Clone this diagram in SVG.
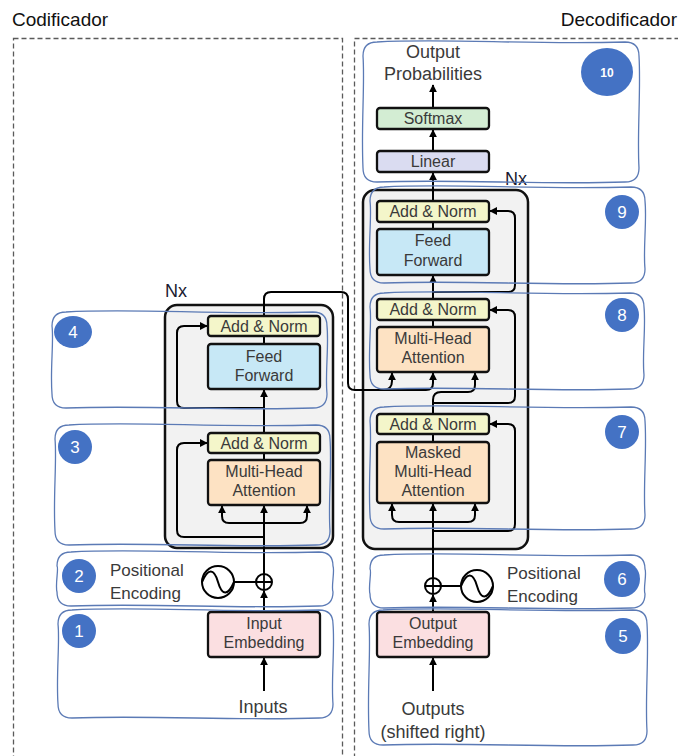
<svg xmlns="http://www.w3.org/2000/svg" width="678" height="756" viewBox="0 0 678 756">
<defs>
<marker id="ah" viewBox="0 0 10 10" refX="9" refY="5" markerWidth="8" markerHeight="8" markerUnits="userSpaceOnUse" orient="auto"><path d="M0,0 L10,5 L0,10 z" fill="#000"/></marker>
<style>
.dash{fill:none;stroke:#5a5a5a;stroke-width:1.3;stroke-dasharray:5 3}
.blk{fill:#f2f2f2;stroke:#111;stroke-width:2.5}
.comp{stroke:#111;stroke-width:2.3}
.an{fill:#f4f6ca}.ff{fill:#c7e8f6}.mha{fill:#fde2c3}.emb{fill:#fbdfe1}.sm{fill:#d3edd3}.lin{fill:#dadcf1}
.t{font-family:"Liberation Sans",Arial,sans-serif;font-size:16px;fill:#3a3a3a;text-anchor:middle}
.big{font-family:"Liberation Sans",Arial,sans-serif;font-size:18px;fill:#3a3a3a}
.pe{font-family:"Liberation Sans",Arial,sans-serif;font-size:17px;fill:#3a3a3a}
.con{fill:none;stroke:#000;stroke-width:2}
.wav{fill:none;stroke:#5b7ab5;stroke-width:1.3}
.num{fill:#4472c4}
.nt{font-family:"Liberation Sans",Arial,sans-serif;font-size:17px;fill:#fff;text-anchor:middle}
.title{font-family:"Liberation Sans",Arial,sans-serif;font-size:19px;fill:#111}
.nx{font-family:"Liberation Sans",Arial,sans-serif;font-size:18px;fill:#1a1a30}
</style>
</defs>
<rect width="678" height="756" fill="#fff"/>
<text class="title" x="12" y="26">Codificador</text>
<text class="title" x="677" y="26" text-anchor="end">Decodificador</text>
<rect class="dash" x="13.5" y="38.5" width="329" height="740"/>
<rect class="dash" x="354.5" y="38.5" width="360" height="740"/>

<g id="encoder-block"><rect class="blk" x="165" y="305" width="168" height="243" rx="12"/><text class="nx" x="165" y="297">Nx</text></g>
<g id="decoder-block"><rect class="blk" x="363" y="190" width="165" height="359" rx="12"/><text class="nx" x="505" y="185">Nx</text></g>

<g id="connectors">
<path class="con" d="M264,691 V658" marker-end="url(#ah)"/>
<path class="con" d="M264,612 V591" marker-end="url(#ah)"/>
<path class="con" d="M234,582 H256"/>
<path class="con" d="M264,574 V506" marker-end="url(#ah)"/>
<path class="con" d="M264,523 H229 Q222,523 222,516 V506" marker-end="url(#ah)"/>
<path class="con" d="M264,523 H300 Q307,523 307,516 V506" marker-end="url(#ah)"/>
<path class="con" d="M264,537 H184 Q177,537 177,530 V450 Q177,443 184,443 H207" marker-end="url(#ah)"/>
<path class="con" d="M264,460 V453"/>
<path class="con" d="M264,433 V390" marker-end="url(#ah)"/>
<path class="con" d="M264,408 H184 Q177,408 177,401 V333 Q177,326 184,326 H207" marker-end="url(#ah)"/>
<path class="con" d="M264,344 V336"/>
<path class="con" d="M264,316 V299 Q264,292 271,292 H341 Q348,292 348,299 V383 Q348,390 355,390 H426 Q433,390 433,383 V373" marker-end="url(#ah)"/>
<path class="con" d="M383,390 Q392,390 392,381 V373" marker-end="url(#ah)"/>

<path class="con" d="M433,691 V658" marker-end="url(#ah)"/>
<path class="con" d="M433,612 V595" marker-end="url(#ah)"/>
<path class="con" d="M441,586 H461"/>
<path class="con" d="M433,578 V504" marker-end="url(#ah)"/>
<path class="con" d="M433,522 H399 Q392,522 392,515 V504" marker-end="url(#ah)"/>
<path class="con" d="M433,522 H468 Q475,522 475,515 V504" marker-end="url(#ah)"/>
<path class="con" d="M433,531 H508 Q515,531 515,524 V431 Q515,424 508,424 H490" marker-end="url(#ah)"/>
<path class="con" d="M433,442 V434"/>
<path class="con" d="M433,414 V400 Q433,392 441,392 H468 Q475,392 475,385 V373" marker-end="url(#ah)"/>
<path class="con" d="M433,403 H508 Q515,403 515,396 V317 Q515,310 508,310 H490" marker-end="url(#ah)"/>
<path class="con" d="M433,327 V320"/>
<path class="con" d="M433,299 V276" marker-end="url(#ah)"/>
<path class="con" d="M433,292 H508 Q515,292 515,285 V218 Q515,211 508,211 H490" marker-end="url(#ah)"/>
<path class="con" d="M433,229 V222"/>
<path class="con" d="M433,201 V173" marker-end="url(#ah)"/>
<path class="con" d="M433,151 V130" marker-end="url(#ah)"/>
<path class="con" d="M433,108 V85" marker-end="url(#ah)"/>
</g>

<g id="enc-addnorm-2"><rect class="comp an" x="208" y="316" width="112" height="20" rx="3"/><text class="t" x="264" y="332">Add &amp; Norm</text></g>
<g id="enc-feedforward"><rect class="comp ff" x="208" y="344" width="112" height="45" rx="3"/><text class="t" x="264" y="362">Feed</text><text class="t" x="264" y="381">Forward</text></g>
<g id="enc-addnorm-1"><rect class="comp an" x="208" y="433" width="112" height="20" rx="3"/><text class="t" x="264" y="449">Add &amp; Norm</text></g>
<g id="enc-mha"><rect class="comp mha" x="208" y="460" width="112" height="45" rx="3"/><text class="t" x="264" y="477">Multi-Head</text><text class="t" x="264" y="496">Attention</text></g>
<g id="enc-pe"><circle cx="264" cy="582" r="8" fill="#fff" stroke="#000" stroke-width="2"/><path d="M256,582 H272 M264,574 V590" stroke="#000" stroke-width="1.8"/><circle cx="218" cy="582" r="16" fill="#fff" stroke="#000" stroke-width="2"/><path d="M202,582 C208,568 214,568 218,582 C222,596 228,596 234,582" fill="none" stroke="#000" stroke-width="2"/><text class="pe" x="110" y="576">Positional</text><text class="pe" x="110" y="599">Encoding</text></g>
<g id="input-embedding"><rect class="comp emb" x="208" y="612" width="112" height="45" rx="3"/><text class="t" x="264" y="629">Input</text><text class="t" x="264" y="648">Embedding</text></g>
<g id="inputs"><text class="big" x="263" y="713" text-anchor="middle">Inputs</text></g>

<g id="output-probabilities"><text class="big" x="433" y="58" text-anchor="middle">Output</text><text class="big" x="433" y="80" text-anchor="middle">Probabilities</text></g>
<g id="softmax"><rect class="comp sm" x="377" y="108" width="112" height="21" rx="3"/><text class="t" x="433" y="124">Softmax</text></g>
<g id="linear"><rect class="comp lin" x="377" y="151" width="112" height="21" rx="3"/><text class="t" x="433" y="167">Linear</text></g>
<g id="dec-addnorm-3"><rect class="comp an" x="377" y="201" width="112" height="21" rx="3"/><text class="t" x="433" y="217">Add &amp; Norm</text></g>
<g id="dec-feedforward"><rect class="comp ff" x="377" y="229" width="112" height="46" rx="3"/><text class="t" x="433" y="246">Feed</text><text class="t" x="433" y="266">Forward</text></g>
<g id="dec-addnorm-2"><rect class="comp an" x="377" y="299" width="112" height="21" rx="3"/><text class="t" x="433" y="315">Add &amp; Norm</text></g>
<g id="dec-mha"><rect class="comp mha" x="377" y="327" width="112" height="45" rx="3"/><text class="t" x="433" y="344">Multi-Head</text><text class="t" x="433" y="363">Attention</text></g>
<g id="dec-addnorm-1"><rect class="comp an" x="377" y="414" width="112" height="20" rx="3"/><text class="t" x="433" y="430">Add &amp; Norm</text></g>
<g id="dec-masked-mha"><rect class="comp mha" x="377" y="442" width="112" height="61" rx="3"/><text class="t" x="433" y="458">Masked</text><text class="t" x="433" y="477">Multi-Head</text><text class="t" x="433" y="496">Attention</text></g>
<g id="dec-pe"><circle cx="433" cy="586" r="8" fill="#fff" stroke="#000" stroke-width="2"/><path d="M425,586 H441 M433,578 V594" stroke="#000" stroke-width="1.8"/><circle cx="477" cy="586" r="16" fill="#fff" stroke="#000" stroke-width="2"/><path d="M461,586 C467,572 473,572 477,586 C481,600 487,600 493,586" fill="none" stroke="#000" stroke-width="2"/><text class="pe" x="507" y="579">Positional</text><text class="pe" x="507" y="602">Encoding</text></g>
<g id="output-embedding"><rect class="comp emb" x="377" y="612" width="112" height="45" rx="3"/><text class="t" x="433" y="629">Output</text><text class="t" x="433" y="648">Embedding</text></g>
<g id="outputs"><text class="big" x="433" y="715" text-anchor="middle">Outputs</text><text class="big" x="433" y="738" text-anchor="middle">(shifted right)</text></g>

<g id="regions">
<path class="wav" d="M377,42 C446,38 529,45 625,42 Q639,42 639,56 C641,91 637,133 639,168 Q639,182 625,182 C542,185 460,179 377,182 Q363,182 363,168 C361,126 365,84 363,56 Q363,42 377,42 Z"/>
<path class="wav" d="M384,187 C452,183 535,190 631,187 Q645,187 645,201 C647,221 643,249 645,269 Q645,283 631,283 C549,286 466,280 384,283 Q370,283 370,269 C368,245 372,216 370,201 Q370,187 384,187 Z"/>
<path class="wav" d="M384,293 C452,289 534,296 630,293 Q644,293 644,307 C646,327 642,355 644,375 Q644,389 630,389 C548,392 466,386 384,389 Q370,389 370,375 C368,351 372,322 370,307 Q370,293 384,293 Z"/>
<path class="wav" d="M384,407 C452,403 535,410 631,407 Q645,407 645,421 C647,450 643,486 645,515 Q645,529 631,529 C549,532 466,526 384,529 Q370,529 370,515 C368,480 372,444 370,421 Q370,407 384,407 Z"/>
<path class="wav" d="M384,555 C452,551 535,558 631,555 Q645,555 645,569 C647,574 643,589 645,594 Q645,608 631,608 C549,611 466,605 384,608 Q370,608 370,594 C368,587 372,571 370,569 Q370,555 384,555 Z"/>
<path class="wav" d="M383,610 C452,606 536,613 633,610 Q647,610 647,624 C649,657 645,698 647,731 Q647,745 633,745 C550,748 466,742 383,745 Q369,745 369,731 C367,691 371,650 369,624 Q369,610 383,610 Z"/>
<path class="wav" d="M66,312 C134,308 217,315 313,312 Q327,312 327,326 C329,346 325,374 327,394 Q327,408 313,408 C231,411 148,405 66,408 Q52,408 52,394 C50,370 54,341 52,326 Q52,312 66,312 Z"/>
<path class="wav" d="M69,425 C137,421 220,428 316,425 Q330,425 330,439 C332,467 328,503 330,531 Q330,545 316,545 C234,548 151,542 69,545 Q55,545 55,531 C53,497 57,461 55,439 Q55,425 69,425 Z"/>
<path class="wav" d="M71,552 C140,548 223,555 319,552 Q333,552 333,566 C335,571 331,587 333,592 Q333,606 319,606 C236,609 154,603 71,606 Q57,606 57,592 C55,584 59,568 57,566 Q57,552 71,552 Z"/>
<path class="wav" d="M72,610 C140,606 223,613 319,610 Q333,610 333,624 C335,648 331,680 333,704 Q333,718 319,718 C237,721 154,715 72,718 Q58,718 58,704 C56,675 60,642 58,624 Q58,610 72,610 Z"/>
</g>

<g id="badge-1"><circle class="num" cx="79" cy="631" r="17"/><text class="nt" x="79" y="637">1</text></g>
<g id="badge-2"><circle class="num" cx="79" cy="576" r="17"/><text class="nt" x="79" y="582">2</text></g>
<g id="badge-3"><circle class="num" cx="75" cy="447" r="17"/><text class="nt" x="75" y="453">3</text></g>
<g id="badge-4"><ellipse class="num" cx="73" cy="332" rx="19" ry="16"/><text class="nt" x="73" y="338">4</text></g>
<g id="badge-5"><circle class="num" cx="623" cy="636" r="18"/><text class="nt" x="623" y="642">5</text></g>
<g id="badge-6"><circle class="num" cx="622" cy="579" r="18"/><text class="nt" x="622" y="585">6</text></g>
<g id="badge-7"><circle class="num" cx="622" cy="432" r="17"/><text class="nt" x="622" y="438">7</text></g>
<g id="badge-8"><circle class="num" cx="622" cy="315" r="17"/><text class="nt" x="622" y="321">8</text></g>
<g id="badge-9"><circle class="num" cx="622" cy="212" r="17"/><text class="nt" x="622" y="218">9</text></g>
<g id="badge-10"><ellipse class="num" cx="607" cy="72" rx="26" ry="24"/><text class="nt" x="607" y="77" style="font-size:12px;font-weight:bold">10</text></g>
</svg>
